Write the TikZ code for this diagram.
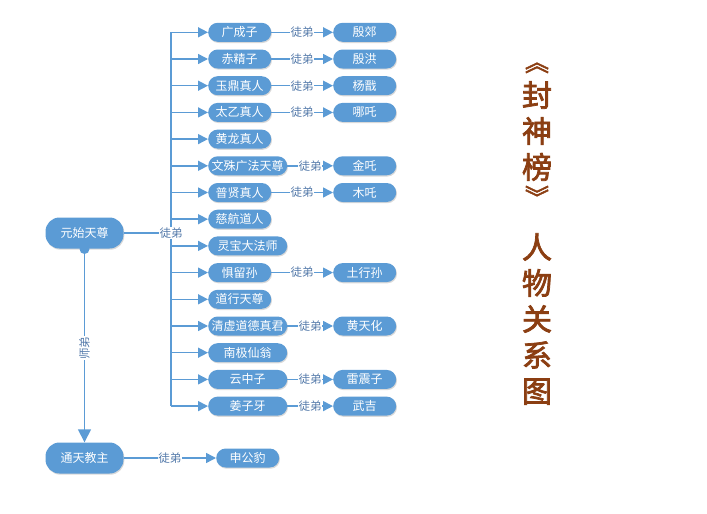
\documentclass[tikz,border=0pt]{standalone}
\usepackage{fontspec}
\setmainfont{Noto Sans CJK SC}
\newfontfamily\titlefont[FakeBold=2.5]{Noto Sans CJK SC}
\usetikzlibrary{arrows.meta,shadows}
\definecolor{nodeblue}{RGB}{91,155,213}
\definecolor{tagblue}{RGB}{84,122,170}
\definecolor{titlebrown}{RGB}{139,62,18}

\begin{document}
\begin{tikzpicture}[x=1pt,y=-1pt,
  god/.style={fill=nodeblue,text=white,minimum width=78pt,minimum height=31pt,
    rounded corners=14pt,font=\fontsize{12}{12}\selectfont,inner sep=0pt,
    drop shadow={shadow xshift=0.8pt,shadow yshift=-1.2pt,opacity=0.3}},
  disciple/.style={fill=nodeblue,text=white,minimum height=19pt,rounded corners=9.5pt,
    font=\fontsize{12}{12}\selectfont,inner sep=0pt,anchor=west,
    drop shadow={shadow xshift=0.8pt,shadow yshift=-1.2pt,opacity=0.3}},
  short/.style={disciple,minimum width=63pt},
  wide/.style={disciple,minimum width=79pt},
  link/.style={draw=nodeblue,line width=1.5pt},
  arr/.style={link,-{Triangle[length=10pt,width=10pt]}},
  tag/.style={fill=white,text=tagblue,inner sep=0.5pt,font=\fontsize{11.5}{11.5}\selectfont},
  title/.style={text=titlebrown,align=center,inner sep=0pt,font=\titlefont\fontsize{30}{36}\selectfont},
  bracket/.style={title,rotate=-90,font=\titlefont\fontsize{24}{24}\selectfont}]
\useasboundingbox (0,0) rectangle (707,514);

% masters
\node[god] (yuanshi) at (84.5,233) {元始天尊};
\node[god] (tongtian) at (84.5,458) {通天教主};
\node[circle,fill=nodeblue,inner sep=0pt,minimum size=10pt] (dot) at (84.5,249) {};

% disciples of yuanshi
\node[short] (gcz) at (208,32.3) {广成子};
\node[short] (cjz) at (208,59) {赤精子};
\node[short] (ydzr) at (208,85.7) {玉鼎真人};
\node[short] (tyzr) at (208,112.4) {太乙真人};
\node[short] (hlzr) at (208,139.1) {黄龙真人};
\node[wide] (wsgf) at (208,165.8) {文殊广法天尊};
\node[short] (pxzr) at (208,192.5) {普贤真人};
\node[short] (chdr) at (208,219.2) {慈航道人};
\node[wide] (lbdfs) at (208,245.9) {灵宝大法师};
\node[short] (jls) at (208,272.6) {惧留孙};
\node[short] (dxtz) at (208,299.3) {道行天尊};
\node[wide] (qxdd) at (208,326) {清虚道德真君};
\node[wide] (njxw) at (208,352.7) {南极仙翁};
\node[wide] (yzz) at (208,379.4) {云中子};
\node[wide] (jzy) at (208,406.1) {姜子牙};

% third generation
\node[short] (yj) at (333,32.3) {殷郊};
\node[short] (yh) at (333,59) {殷洪};
\node[short] (yjian) at (333,85.7) {杨戬};
\node[short] (nz) at (333,112.4) {哪吒};
\node[short] (jz) at (333,165.8) {金吒};
\node[short] (mz) at (333,192.5) {木吒};
\node[short] (txs) at (333,272.6) {土行孙};
\node[short] (htf) at (333,326) {黄天化};
\node[short] (lzz) at (333,379.4) {雷震子};
\node[short] (wj) at (333,406.1) {武吉};
\node[short] (sgb) at (216,458) {申公豹};

% trunk
\coordinate (trunk) at (171,233);
\draw[link] (trunk |- gcz) -- (trunk |- jzy);
\draw[link] (yuanshi) -- (trunk) node[tag] {徒弟};
\foreach \n in {gcz,cjz,ydzr,tyzr,hlzr,wsgf,pxzr,chdr,lbdfs,jls,dxtz,qxdd,njxw,yzz,jzy}
  \draw[arr] (trunk |- \n) -- (\n);

\draw[arr] (gcz) -- (yj) node[midway,tag] {徒弟};
\draw[arr] (cjz) -- (yh) node[midway,tag] {徒弟};
\draw[arr] (ydzr) -- (yjian) node[midway,tag] {徒弟};
\draw[arr] (tyzr) -- (nz) node[midway,tag] {徒弟};
\draw[arr] (wsgf) -- (jz) node[midway,tag] {徒弟};
\draw[arr] (pxzr) -- (mz) node[midway,tag] {徒弟};
\draw[arr] (jls) -- (txs) node[midway,tag] {徒弟};
\draw[arr] (qxdd) -- (htf) node[midway,tag] {徒弟};
\draw[arr] (yzz) -- (lzz) node[midway,tag] {徒弟};
\draw[arr] (jzy) -- (wj) node[midway,tag] {徒弟};

\draw[link,-{Triangle[length=13pt,width=13pt]}] (dot) -- (tongtian) node[midway,tag,rotate=90] {师弟};
\draw[arr] (tongtian) -- (sgb) node[midway,tag] {徒弟};

% title
\node[bracket] (lbr) at (537,62) {《};
\node[title] (book) at (537,131) {封\\神\\榜};
\node[bracket] (rbr) at (537,197) {》};
\node[title] (chart) at (537,319) {人\\物\\关\\系\\图};
\end{tikzpicture}
\end{document}
